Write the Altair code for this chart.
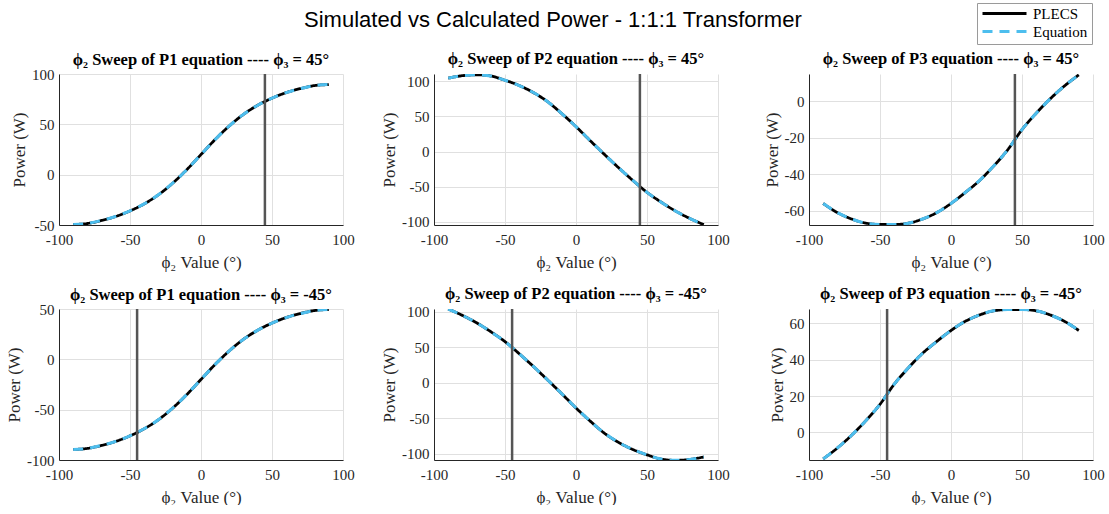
import altair as alt
import pandas as pd

# ---- data ----
phi2 = [-90, -80, -70, -60, -50, -40, -30, -20, -10, 0, 10, 20, 30, 40, 50, 60, 70, 80, 90]

p1_phi3_pos45 = [-49.5, -48.5, -45.5, -41.5, -36, -29, -20, -8.5, 5, 20, 35, 48.5, 60, 69, 76, 81.5, 85.5, 88.5, 89.5]
p2_phi3_pos45 = [104.5, 108, 109.3, 107.5, 101.5, 94, 84, 71, 54, 35.5, 15.5, -4, -23, -41, -58, -72, -84.5, -95, -104]
p3_phi3_pos45 = [-56, -61, -64.5, -66.8, -67.5, -67.5, -66.8, -64.5, -61, -56, -50, -43.5, -35.5, -26.5, -15.5, -6.5, 1.5, 8.5, 14.5]

p1_phi3_neg45 = [-89.5, -88.5, -85.5, -81.5, -76, -69, -60, -48.5, -35, -20, -5, 8.5, 20, 29, 36, 41.5, 45.5, 48.5, 49.5]
p2_phi3_neg45 = [104, 95, 84.5, 72, 58, 41, 23, 4, -15.5, -35.5, -54, -71, -84, -94, -101.5, -107.5, -109.3, -108, -104.5]
p3_phi3_neg45 = [-14.5, -8.5, -1.5, 6.5, 15.5, 26.5, 35.5, 43.5, 50, 56, 61, 64.5, 66.8, 67.5, 67.5, 66.8, 64.5, 61, 56]

series_names = ["PLECS", "Equation"]
series_colors = ["#000000", "#4DBEEE"]
x_ticks = [-100, -50, 0, 50, 100]

# (equation, phi3 label, values, y domain, y ticks, marker position, title nudge)
panels = [
    ("P1", "45", p1_phi3_pos45, [-50, 100], [-50, 0, 50, 100], 45, 6),
    ("P2", "45", p2_phi3_pos45, [-104.5, 110.4], [-100, -50, 0, 50, 100], 45, 0),
    ("P3", "45", p3_phi3_pos45, [-67.8, 15], [-60, -40, -20, 0], 45, 0),
    ("P1", "-45", p1_phi3_neg45, [-100, 50], [-100, -50, 0, 50], -45, 6),
    ("P2", "-45", p2_phi3_neg45, [-108.8, 104], [-100, -50, 0, 50, 100], -45, 3),
    ("P3", "-45", p3_phi3_neg45, [-15.1, 67.8], [0, 20, 40, 60], -45, 0),
]

W, H = 284, 151


def make_panel(eq, phi3, vals, ydom, yticks, xline, tdy, show_legend):
    df = pd.DataFrame({
        "phi2": phi2 * 2,
        "power": vals * 2,
        "series": [series_names[0]] * len(phi2) + [series_names[1]] * len(phi2),
    })
    if show_legend:
        legend = alt.Legend(
            title=None, orient="none", legendX=918, legendY=-71,
            strokeColor="#9a9a9a", fillColor="white", padding=4,
            labelFont="Liberation Serif", labelFontSize=15, labelColor="#000000",
            symbolType="stroke", symbolSize=1936, symbolStrokeWidth=3,
            clipHeight=13, labelOffset=5, rowPadding=2,
        )
    else:
        legend = None
    color = alt.Color("series:N", scale=alt.Scale(domain=series_names, range=series_colors), legend=legend)
    dash = alt.StrokeDash("series:N", scale=alt.Scale(domain=series_names, range=[[1, 0], [10, 7]]), legend=legend)
    x = alt.X("phi2:Q", scale=alt.Scale(domain=[-100, 100], nice=False, zero=False),
              axis=alt.Axis(values=x_ticks, title="ϕ₂ Value (°)", labelPadding=7, titlePadding=7,
                            labelFlush=False, labelExpr="'' + datum.value"))
    y = alt.Y("power:Q", scale=alt.Scale(domain=ydom, nice=False, zero=False),
              axis=alt.Axis(values=yticks, title="Power (W)", labelPadding=5, titlePadding=3,
                            labelFlush=False, labelExpr="'' + datum.value"))
    base = alt.Chart(df)
    black = base.transform_filter(alt.datum.series == "PLECS").mark_line(
        strokeWidth=2.8, interpolate="monotone", clip=True
    ).encode(x=x, y=y, color=color, strokeDash=dash)
    blue = base.transform_filter(alt.datum.series == "Equation").mark_line(
        strokeWidth=3, interpolate="monotone", clip=True
    ).encode(x=x, y=y, color=color, strokeDash=dash)
    rule = alt.Chart(pd.DataFrame({"phi2": [xline]})).mark_rule(
        color="#555555", strokeWidth=2.5
    ).encode(x=alt.X("phi2:Q"))
    title = alt.TitleParams(
        f"ϕ₂ Sweep of {eq} equation ---- ϕ₃ = {phi3}°",
        font="Liberation Serif", fontSize=16.5, fontWeight="bold", color="#000000",
        offset=5, frame="group", dy=tdy,
    )
    return alt.layer(black, blue, rule).properties(width=W, height=H, title=title)


charts = [make_panel(*p, show_legend=(i == 0)) for i, p in enumerate(panels)]

chart = alt.concat(
    *charts, columns=3,
    spacing=alt.RowColnumber(row=84, column=91),
    bounds="flush",
).resolve_scale(
    color="shared", strokeDash="shared"
).properties(
    title=alt.TitleParams(
        "Simulated vs Calculated Power - 1:1:1 Transformer",
        font="Liberation Sans", fontSize=22, fontWeight="normal", color="#000000",
        anchor="middle", dx=-2, offset=-29,
    ),
    padding={"left": 5, "top": 2, "right": 0, "bottom": 0},
    background="white",
).configure_view(
    stroke=None
).configure_axis(
    labelFont="Liberation Serif", labelFontSize=15, labelColor="#262626",
    titleFont="Liberation Serif", titleFontSize=17, titleFontWeight="normal", titleColor="#262626",
    domainColor="#262626", domainWidth=1, gridColor="#e0e0e0", gridWidth=1,
    ticks=False,
)

chart.save("out.html", embed_options={"renderer": "svg", "actions": False})
